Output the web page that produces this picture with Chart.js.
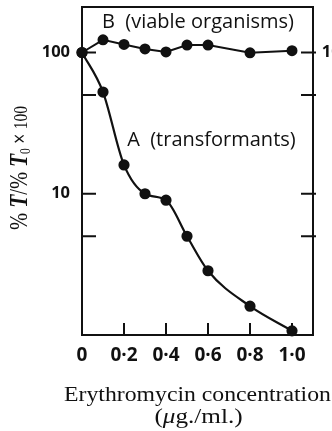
<!DOCTYPE html>
<html>
<head>
<meta charset="utf-8">
<script src="https://cdn.jsdelivr.net/npm/chart.js@4"></script>
<style>
  html, body { margin: 0; padding: 0; background: #fff; }
  #wrap { width: 332px; height: 431px; }
</style>
</head>
<body>
<div id="wrap"><canvas id="chart"></canvas></div>
<script>
// erythromycin concentration (µg./ml.)
const concentrations = [0, 0.1, 0.2, 0.3, 0.4, 0.5, 0.6, 0.8, 1.0];
// B: viable organisms, A: transformants (% T / % T0 x 100)
const viable = [100, 123, 114, 106, 101, 113, 113, 99.5, 103];
const transformants = [100, 52.5, 16, 10, 9.0, 5.0, 2.85, 1.6, 1.07];

const xTicks = [0, 0.2, 0.4, 0.6, 0.8, 1.0];
const xTickLabels = ["0", "0·2", "0·4", "0·6", "0·8", "1·0"];
const yLabelTicks = [100, 10];
const yTickMarks = [100, 50, 10, 5];
const seriesNames = ["B  (viable organisms)", "A  (transformants)"];

const INK = "#111";
const SANS = '"Open Sans", "Liberation Sans", sans-serif';
const SERIF = '"Liberation Serif", "Times New Roman", serif';

const pts = ys => concentrations.map((c, i) => ({x: c, y: ys[i]}));

// draw a run of differently styled pieces, centred on (cx, cy), stretched by sx
function drawRun(ctx, parts, cx, cy, sx) {
  let total = 0;
  parts.forEach(p => { ctx.font = p.f; p.w = ctx.measureText(p.t).width; total += p.w; });
  ctx.save();
  ctx.translate(cx, cy);
  ctx.scale(sx, 1);
  let px = -total / 2;
  parts.forEach(p => { ctx.font = p.f; ctx.fillText(p.t, px, p.dy || 0); px += p.w; });
  ctx.restore();
}

const frame = {
  id: "frame",
  beforeDatasetsDraw(chart) {
    const {ctx, chartArea: a, scales: {x, y}} = chart;
    ctx.save();
    ctx.strokeStyle = INK;
    ctx.lineWidth = 2;
    ctx.strokeRect(a.left, a.top, a.right - a.left, a.bottom - a.top);
    ctx.beginPath();
    yTickMarks.forEach(v => {
      const py = y.getPixelForValue(v);
      ctx.moveTo(a.left, py); ctx.lineTo(a.left + 14, py);
      ctx.moveTo(a.right + 3, py); ctx.lineTo(a.right - 12, py);
    });
    xTicks.slice(1).forEach(v => {
      const px = x.getPixelForValue(v);
      ctx.moveTo(px, a.bottom); ctx.lineTo(px, a.bottom - 12);
    });
    ctx.stroke();
    ctx.restore();
  },
  afterDraw(chart) {
    const {ctx, chartArea: a, scales: {x, y}} = chart;
    ctx.save();
    ctx.fillStyle = INK;
    ctx.textBaseline = "middle";

    // right-hand labels run off the edge of the page
    ctx.font = "bold 16.5px " + SANS;
    ctx.textAlign = "right";
    yLabelTicks.forEach(v => ctx.fillText(String(v), a.right + 37, y.getPixelForValue(v)));

    // curve names
    ctx.textAlign = "left";
    ctx.font = "500 20px " + SANS;
    ctx.fillText(seriesNames[0], x.getPixelForValue(0.095), a.top + 15);
    ctx.fillText(seriesNames[1], x.getPixelForValue(0.215), y.getPixelForValue(24));

    // x axis title
    const cx = (a.left + a.right) / 2;
    ctx.textBaseline = "alphabetic";
    drawRun(ctx, [{t: "Erythromycin concentration", f: "21px " + SERIF}], cx, 401, 1.13);
    drawRun(ctx, [
      {t: "(", f: "21px " + SERIF},
      {t: "μ", f: "italic 21px " + SERIF},
      {t: "g./ml.)", f: "21px " + SERIF}
    ], cx + 1, 423, 1.2);

    // y axis title, rotated
    ctx.translate(27, 168);
    ctx.rotate(-Math.PI / 2);
    drawRun(ctx, [
      {t: "% ", f: "25px " + SERIF},
      {t: "T", f: "bold italic 26px " + SERIF},
      {t: "/% ", f: "25px " + SERIF},
      {t: "T", f: "bold italic 26px " + SERIF},
      {t: "0", f: "14px " + SERIF, dy: 3},
      {t: " × ", f: "21px " + SANS},
      {t: "100", f: "19px " + SERIF}
    ], 0, 0, 0.82);
    ctx.restore();
  }
};

new Chart(document.getElementById("chart"), {
  type: "line",
  data: {
    datasets: [
      {label: "B (viable organisms)", data: pts(viable), borderColor: INK, backgroundColor: INK,
       borderWidth: 2, pointRadius: 4.5, pointHoverRadius: 4.5, tension: 0, clip: false},
      {label: "A (transformants)", data: pts(transformants), borderColor: INK, backgroundColor: INK,
       borderWidth: 2.2, pointRadius: 4.5, pointHoverRadius: 4.5, cubicInterpolationMode: "monotone", clip: false}
    ]
  },
  options: {
    responsive: true, maintainAspectRatio: false, animation: false,
    layout: {padding: {top: 7, right: 19, left: 0, bottom: 0}},
    plugins: {legend: {display: false}, tooltip: {enabled: false}},
    scales: {
      x: {
        type: "linear", min: 0, max: 1.1,
        afterBuildTicks: s => { s.ticks = xTicks.map(v => ({value: v})); },
        afterFit: s => { s.height = 96; s.paddingLeft = 0; s.paddingRight = 0; },
        grid: {display: false, drawTicks: false}, border: {display: false},
        ticks: {color: INK, font: {family: SANS, size: 19, weight: "bold"}, padding: 9, maxRotation: 0,
                callback: (v, i) => xTickLabels[i]}
      },
      y: {
        type: "logarithmic", min: 1, max: 210,
        afterBuildTicks: s => { s.ticks = yLabelTicks.map(v => ({value: v})); },
        afterFit: s => { s.width = 82; s.paddingTop = 0; s.paddingBottom = 0; },
        grid: {display: false, drawTicks: false}, border: {display: false},
        ticks: {color: INK, font: {family: SANS, size: 16.5, weight: "bold"}, padding: 12,
                callback: v => String(v)}
      }
    }
  },
  plugins: [frame]
});
</script>
</body>
</html>
